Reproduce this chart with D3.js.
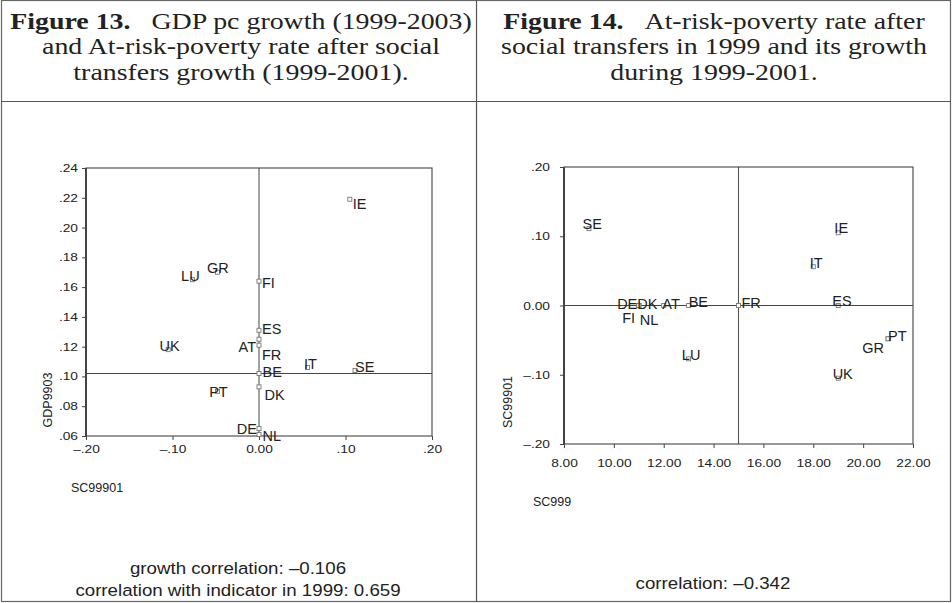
<!DOCTYPE html>
<html>
<head>
<meta charset="utf-8">
<script src="https://cdn.jsdelivr.net/npm/d3@7"></script>
<style>
  body { margin: 0; background: #fff; }
  svg { display: block; }
  .tick text { font-family: "Liberation Sans", Arial, sans-serif; font-size: 11px; fill: #222; }
  .tick line { stroke: #444; }
  .domain { display: none; }
</style>
</head>
<body>
<div id="chart"></div>
<script>
// country codes and the three indicators
var countries = ["AT", "BE", "DE", "DK", "ES", "FI", "FR", "GR", "IE", "IT", "LU", "NL", "PT", "SE", "UK"];
var sc99901 = [0.000, 0.000, 0.000, 0.000, 0.000, 0.000, 0.000, -0.048, 0.105, 0.056, -0.077, 0.000, -0.048, 0.111, -0.105];
var gdp9903 = [0.125, 0.102, 0.065, 0.093, 0.131, 0.164, 0.121, 0.170, 0.219, 0.106, 0.165, 0.061, 0.090, 0.104, 0.118];
var sc999 = [12, 13, 11, 11, 19, 11, 15, 21, 19, 18, 13, 11, 21, 9, 19];

var gdpTicks = [0.06, 0.08, 0.10, 0.12, 0.14, 0.16, 0.18, 0.20, 0.22, 0.24];
var growthTicks = [-0.20, -0.10, 0.00, 0.10, 0.20];
var sc999Ticks = [8, 10, 12, 14, 16, 18, 20, 22];

var headLeft = [["Figure 13.", "GDP pc growth (1999-2003)"], ["", "and At-risk-poverty rate after social"], ["", "transfers growth (1999-2001)."]];
var headRight = [["Figure 14.", "At-risk-poverty rate after"], ["", "social transfers in 1999 and its growth"], ["", "during 1999-2001."]];
var noteLeft = ["growth correlation: \u20130.106", "correlation with indicator in 1999: 0.659"];
var noteRight = ["correlation: \u20130.342"];

// label placement around each point: [dx, dy, anchor]
var placeLeft = {
  IE: [3, 5, "start"], FI: [3, 1.5, "start"], LU: [-2, -4, "middle"], GR: [0.5, -4, "middle"],
  ES: [3, -1, "start"], AT: [-3, 7.5, "end"], FR: [3, 10, "start"], BE: [3.5, -2, "start"],
  DK: [5.5, 7.7, "start"], DE: [-2, 0.7, "end"], NL: [3.5, 1.5, "start"], UK: [1.5, -4, "middle"],
  PT: [1, 0, "middle"], IT: [3, -3.7, "middle"], SE: [0, -3.4, "start"]
};
var placeRight = {
  SE: [3.3, -5, "middle"], DE: [-1.5, -1.7, "end"], DK: [-1.5, -1.7, "start"], FI: [-3.7, 12.5, "end"],
  NL: [1, 14, "start"], AT: [-1.4, -1.7, "start"], BE: [0, -3.7, "start"], FR: [3, -2.7, "start"],
  ES: [3.7, -4.3, "middle"], IE: [3, -4.7, "middle"], IT: [3, -3.7, "middle"], LU: [2.5, -4.4, "middle"],
  PT: [0, -2.6, "start"], GR: [-4, 9.4, "end"], UK: [4.5, -4.7, "middle"]
};

var W = 952, H = 603;
var sans = "'Liberation Sans', Arial, sans-serif";
var svg = d3.select("#chart").append("svg").attr("width", W).attr("height", H);
svg.append("rect").attr("width", W).attr("height", H).attr("fill", "#fff");

// table frame
svg.append("rect").attr("x", 1.5).attr("y", 0.5).attr("width", 949).attr("height", 601)
  .attr("fill", "none").attr("stroke", "#666").attr("stroke-width", 1.2);
svg.append("line").attr("x1", 476.5).attr("x2", 476.5).attr("y1", 0).attr("y2", 602)
  .attr("stroke", "#555").attr("stroke-width", 1.2);
svg.append("line").attr("x1", 1).attr("x2", 951).attr("y1", 101.5).attr("y2", 101.5)
  .attr("stroke", "#555").attr("stroke-width", 1.2);

// text that is a bit wider than the font, as in the scanned original
function wideText(parent, x, y, sx, size, family) {
  return parent.append("text")
    .attr("transform", "translate(" + x + "," + y + ") scale(" + sx + ",1)")
    .style("font-family", family).style("font-size", size + "px").attr("fill", "#222");
}

function header(lines, cx) {
  lines.forEach(function(l, i) {
    var t = wideText(svg, cx, 28.5 + i * 25.7, 1.24, 22.5, "'Liberation Serif', 'Times New Roman', serif")
      .attr("text-anchor", "middle");
    if (l[0]) t.append("tspan").style("font-weight", "bold").text(l[0] + "\u2002 ");
    t.append("tspan").text(l[1]);
  });
}
header(headLeft, 241);
header(headRight, 714);

function fmtSigned(v, dec) {
  if (v === 0) return d3.format("." + dec + "f")(0);
  var s = d3.format("." + dec + "f")(Math.abs(v)).replace(/^0\./, ".");
  return (v < 0 ? "\u2013" : "") + s;
}

function scatter(o) {
  var g = svg.append("g");
  var x = d3.scaleLinear().domain(o.xDomain).range(o.xRange);
  var y = d3.scaleLinear().domain(o.yDomain).range(o.yRange);
  var sx = 1.25;

  g.append("g").attr("transform", "translate(0," + o.yRange[0] + ")")
    .call(d3.axisBottom(x).tickValues(o.xTicks).tickSize(4).tickPadding(o.xPad).tickFormat(o.xFmt))
    .selectAll("text").attr("transform", "scale(" + sx + ",1)");
  g.append("g").attr("transform", "translate(" + o.xRange[0] + ",0)")
    .call(d3.axisLeft(y).tickValues(o.yTicks).tickSize(4).tickPadding(o.yPad).tickFormat(o.yFmt))
    .selectAll("text").attr("transform", "scale(" + sx + ",1)").attr("x", -(4 + o.yPad) / sx);

  // reference lines
  g.append("line").attr("x1", x(o.refX)).attr("x2", x(o.refX)).attr("y1", o.yRange[1]).attr("y2", o.yRange[0])
    .attr("stroke", "#555").attr("stroke-width", 1.1);
  g.append("line").attr("x1", o.xRange[0]).attr("x2", o.xRange[1]).attr("y1", y(o.refY)).attr("y2", y(o.refY))
    .attr("stroke", "#444").attr("stroke-width", 1.1);

  // plot frame
  g.append("rect").attr("x", o.xRange[0]).attr("y", o.yRange[1])
    .attr("width", o.xRange[1] - o.xRange[0]).attr("height", o.yRange[0] - o.yRange[1])
    .attr("fill", "none").attr("stroke", "#444").attr("stroke-width", 1.1);
  g.append("line").attr("x1", o.xRange[0]).attr("x2", o.xRange[0]).attr("y1", o.yRange[1]).attr("y2", o.yRange[0] + 0.5)
    .attr("stroke", "#444").attr("stroke-width", 2);

  g.selectAll(".pt").data(countries).enter().append("rect").attr("class", "pt")
    .attr("x", function(d, i) { return x(o.xs[i]) - 2; })
    .attr("y", function(d, i) { return y(o.ys[i]) - 2; })
    .attr("width", 4).attr("height", 4)
    .attr("fill", "#fff").attr("stroke", "#777").attr("stroke-width", 0.9);

  g.selectAll(".lab").data(countries).enter().append("text").attr("class", "lab")
    .attr("x", function(d, i) { return x(o.xs[i]) + o.place[d][0]; })
    .attr("y", function(d, i) { return y(o.ys[i]) + o.place[d][1] + 5.2; })
    .attr("text-anchor", function(d) { return o.place[d][2]; })
    .style("font-family", sans).style("font-size", "14.5px")
    .attr("fill", "#222")
    .text(function(d) { return d; });

  g.append("text")
    .attr("transform", "translate(" + o.yTitlePos[0] + "," + o.yTitlePos[1] + ") rotate(-90)")
    .attr("text-anchor", "middle").attr("dy", "0.35em")
    .style("font-family", sans).style("font-size", "12.5px").attr("fill", "#222")
    .text(o.yTitle);
  g.append("text").attr("x", o.xTitlePos[0]).attr("y", o.xTitlePos[1])
    .style("font-family", sans).style("font-size", "12.5px").attr("fill", "#222")
    .text(o.xTitle);

  o.notes.forEach(function(n, i) {
    wideText(g, o.noteX, o.noteY + i * 22, 1.1, 17, sans).attr("text-anchor", "middle").text(n);
  });
}

scatter({
  xs: sc99901, ys: gdp9903,
  xDomain: [-0.2, 0.2], xRange: [86, 432],
  yDomain: [0.06, 0.24], yRange: [436, 168],
  xTicks: growthTicks, yTicks: gdpTicks,
  xFmt: function(v) { return fmtSigned(v, 2); },
  yFmt: function(v) { return fmtSigned(v, 2); },
  xPad: 5, yPad: 4,
  refX: 0, refY: 0.102,
  place: placeLeft,
  yTitle: "GDP9903", yTitlePos: [48, 400],
  xTitle: "SC99901", xTitlePos: [71, 492],
  notes: noteLeft, noteX: 238, noteY: 574
});

scatter({
  xs: sc999, ys: sc99901,
  xDomain: [8, 22], xRange: [564, 913],
  yDomain: [-0.2, 0.2], yRange: [444, 167],
  xTicks: sc999Ticks, yTicks: [-0.2, -0.1, 0, 0.1, 0.2],
  xFmt: d3.format(".2f"),
  yFmt: function(v) { return fmtSigned(v, 2); },
  xPad: 11, yPad: 10,
  refX: 15, refY: 0,
  place: placeRight,
  yTitle: "SC99901", yTitlePos: [508, 402],
  xTitle: "SC999", xTitlePos: [533, 506],
  notes: noteRight, noteX: 713, noteY: 589
});
</script>
</body>
</html>
